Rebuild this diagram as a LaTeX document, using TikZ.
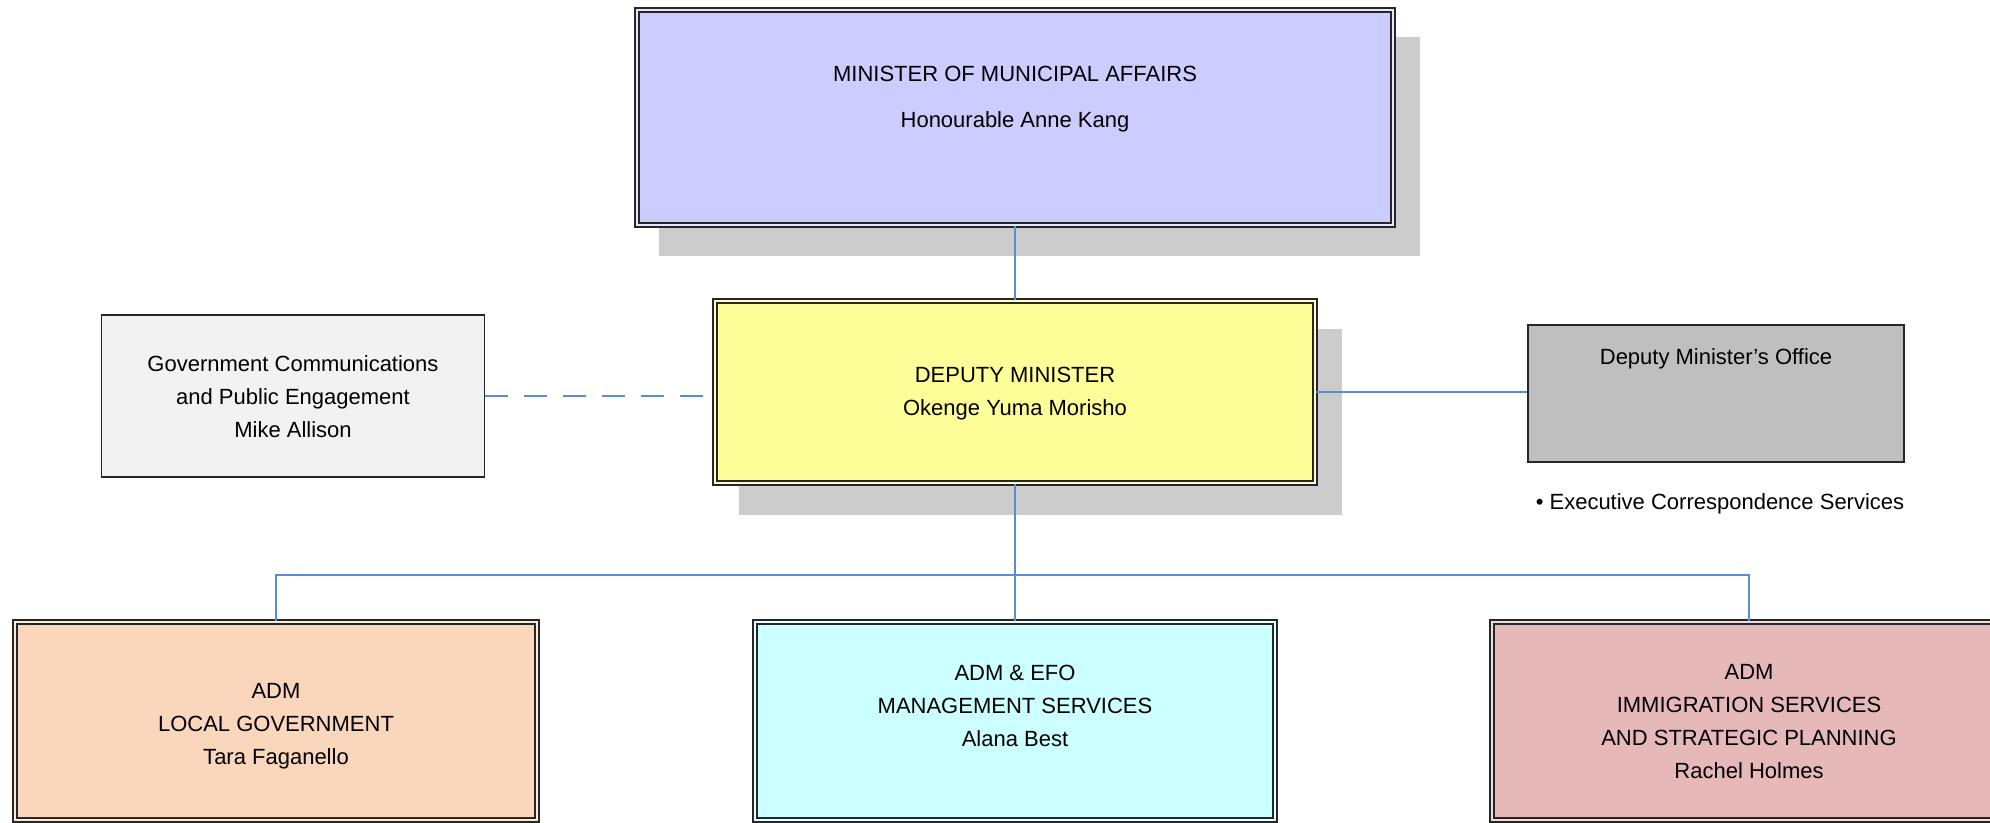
\documentclass[tikz,border=0pt]{standalone}
\usepackage{fontspec}
\setmainfont{Liberation Sans}
\usetikzlibrary{calc}
\definecolor{minc}{HTML}{CCCCFF}
\definecolor{depc}{HTML}{FFFF99}
\definecolor{govc}{HTML}{F2F2F2}
\definecolor{offc}{HTML}{BFBFBF}
\definecolor{lgc}{HTML}{FAD7BC}
\definecolor{efoc}{HTML}{CCFFFF}
\definecolor{immc}{HTML}{E6B8B7}
\definecolor{shadc}{HTML}{CCCCCC}
\definecolor{linec}{HTML}{5B8BD0}
\definecolor{framec}{HTML}{262626}
\pgfdeclarelayer{background}
\pgfsetlayers{background,main}
\tikzset{
  dbox/.style={draw=framec, line width=1.1pt, double distance=1.1pt, rectangle, inner sep=0pt},
  sbox/.style={draw=framec, line width=0.9pt, rectangle, inner sep=0pt},
  txt/.style={align=center, font=\fontsize{11}{16.5}\selectfont, text=black, inner sep=0pt},
  conn/.style={draw=linec, line width=0.8pt},
  dashconn/.style={conn, dash pattern=on 11.5pt off 8pt},
  shad/.style={fill=shadc}
}
\begin{document}
\begin{tikzpicture}[x=0.5pt,y=-0.5pt]
\useasboundingbox (0,0) rectangle (1990,823);
\clip (0,0) rectangle (1990,823);

% boxes
\node[dbox, fill=minc, double=minc!50!white, minimum width=378pt, minimum height=107.5pt] (min) at (1015,117.5) {};
\node[dbox, fill=depc, double=depc!50!white, minimum width=300pt, minimum height=91pt] (dep) at (1015,392) {};
\node[sbox, fill=govc, minimum width=191.5pt, minimum height=81pt] (gov) at (293,396) {};
\node[sbox, fill=offc, minimum width=188pt, minimum height=68.5pt] (off) at (1716,393.5) {};
\node[dbox, fill=lgc, double=lgc!50!white, minimum width=261pt, minimum height=99pt] (lg) at (276,721) {};
\node[dbox, fill=efoc, double=efoc!50!white, minimum width=260pt, minimum height=99pt] (efo) at (1015,721) {};
\node[dbox, fill=immc, double=immc!50!white, minimum width=257pt, minimum height=99pt] (imm) at (1749,721) {};

% shadows
\begin{pgfonlayer}{background}
\fill[shad] ([shift={(23,28)}]min.north west) rectangle ([shift={(26,30)}]min.south east);
\fill[shad] ([shift={(25,29)}]dep.north west) rectangle ([shift={(26,31)}]dep.south east);
\end{pgfonlayer}

% texts
\node[txt] (minT) at (1015,99) {MINISTER OF MUNICIPAL AFFAIRS\\[6.5pt]Honourable Anne Kang};
\node[txt] (depT) at (1015,394) {DEPUTY MINISTER\\Okenge Yuma Morisho};
\node[txt] (govT) at (293,397) {Government Communications\\and Public Engagement\\Mike Allison};
\node[txt] (offT) at (1716,359) {Deputy Minister’s Office};
\node[txt] (bulT) at (1720,504) {• Executive Correspondence Services};
\node[txt] (lgT) at (276,726) {ADM\\LOCAL GOVERNMENT\\Tara Faganello};
\node[txt] (efoT) at (1015,706) {ADM \& EFO\\MANAGEMENT SERVICES\\Alana Best};
\node[txt] (immT) at (1749,722) {ADM\\IMMIGRATION SERVICES\\AND STRATEGIC PLANNING\\Rachel Holmes};

% connectors
\coordinate (bus) at (1015,575);
\draw[conn] (min.south) -- (dep.north);
\draw[dashconn] (gov.east) -- (gov.east -| dep.west);
\draw[conn] (dep.east) -- (dep.east -| off.west);
\draw[conn] (dep.south) -- (efo.north);
\draw[conn] (lg.north) -- (lg.north |- bus) -- (imm.north |- bus) -- (imm.north);
\end{tikzpicture}
\end{document}
